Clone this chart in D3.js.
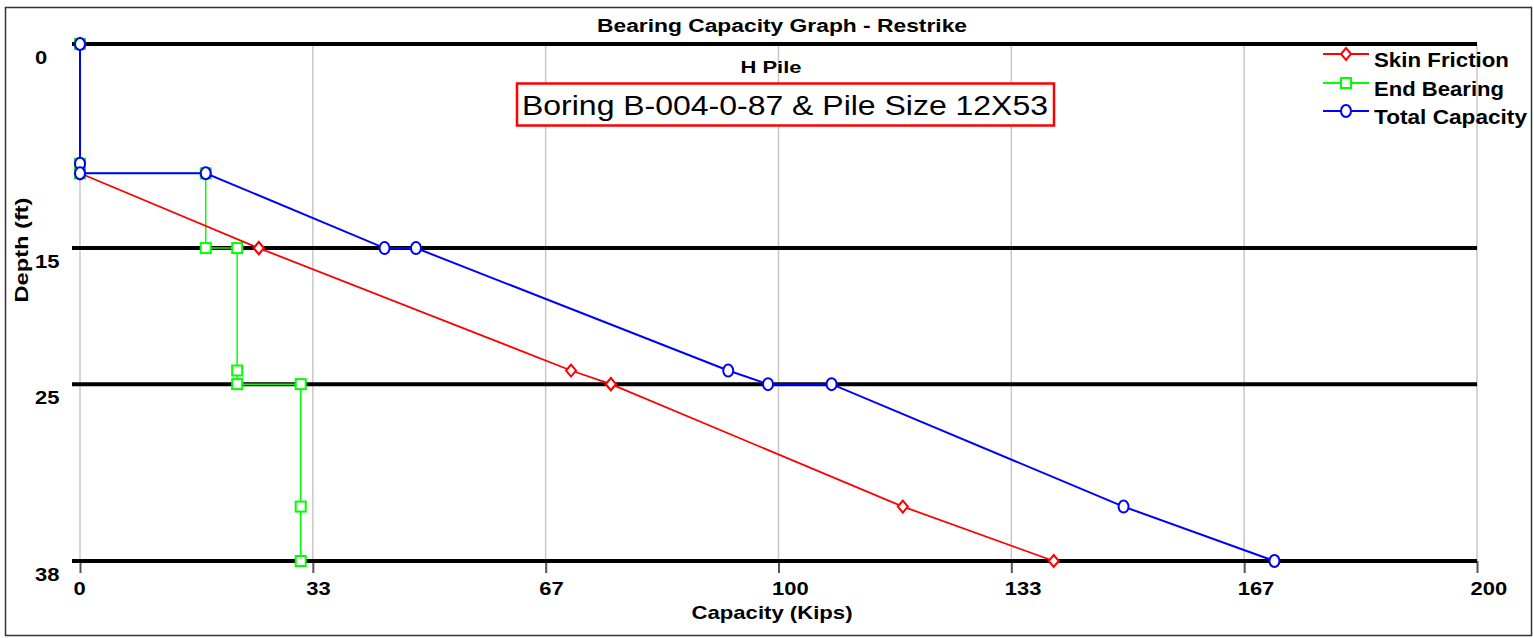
<!DOCTYPE html>
<html>
<head>
<meta charset="utf-8">
<script src="https://cdn.jsdelivr.net/npm/d3@7"></script>
<style>
  html, body { margin: 0; padding: 0; background: #fff; }
  svg { display: block; }
  text { font-family: "Liberation Sans", Arial, sans-serif; }
</style>
</head>
<body>
<svg id="chart" width="1534" height="638"></svg>
<script>
// ---- data ----
const depths        = [0, 8.8, 9.5, 9.5, 15, 15, 24, 25, 25, 34, 38];
const skinFriction  = [0, 0, 0, 0, 25.6, 25.6, 70.3, 76.0, 76.0, 117.8, 139.4];
const endBearing    = [0, 0, 0, 18.0, 18.0, 22.5, 22.5, 22.5, 31.6, 31.6, 31.6];
const totalCapacity = [0, 0, 0, 18.0, 43.6, 48.1, 92.8, 98.5, 107.6, 149.4, 171.0];
const xTickValues = [0, 200/6, 400/6, 100, 800/6, 1000/6, 200];
const xTickLabels = ["0", "33", "67", "100", "133", "167", "200"];
const yTickValues = [0, 15, 25, 38];
const yTickLabels = ["0", "15", "25", "38"];
const seriesNames = ["Skin Friction", "End Bearing", "Total Capacity"];

const svg = d3.select("#chart");
const x = d3.scaleLinear().domain([0, 200]).range([80, 1477]);
const y = d3.scaleLinear().domain([0, 38]).range([44, 561]);

function stretch(sel, k) {
  sel.each(function() {
    const w = this.getComputedTextLength();
    d3.select(this).attr("textLength", w * k).attr("lengthAdjust", "spacingAndGlyphs");
  });
}
function fit(sel, w) { sel.attr("textLength", w).attr("lengthAdjust", "spacingAndGlyphs"); }

// outer border
svg.append("rect").attr("x", 5.5).attr("y", 7.5).attr("width", 1526).attr("height", 628)
  .attr("fill", "none").attr("stroke", "#333").attr("stroke-width", 1.5);

// title
svg.append("text").attr("x", 782).attr("y", 32).attr("text-anchor", "middle")
  .attr("font-size", 17.5).attr("font-weight", "bold").text("Bearing Capacity Graph - Restrike")
  .call(fit, 370);

// vertical grid lines
svg.append("g").selectAll("line").data(xTickValues).join("line")
  .attr("x1", d => x(d)).attr("x2", d => x(d)).attr("y1", y(0)).attr("y2", y(38))
  .attr("stroke", "#c8c8c8").attr("stroke-width", 1.5);

// x axis
const xAxis = svg.append("g").attr("transform", `translate(0,${y(38)})`)
  .call(d3.axisBottom(x).tickValues(xTickValues).tickFormat((d, i) => xTickLabels[i]).tickSize(12).tickPadding(0));
xAxis.select(".domain").remove();
xAxis.selectAll(".tick line").attr("stroke", "#555").attr("stroke-width", 2);
xAxis.selectAll(".tick text").attr("text-anchor", "start").attr("x", -7).attr("y", 34).attr("dy", 0)
  .attr("font-size", 18).attr("font-weight", "bold").attr("fill", "#000").attr("font-family", null)
  .call(stretch, 1.22);

// y axis labels
const yAxis = svg.append("g").attr("transform", "translate(80,0)")
  .call(d3.axisLeft(y).tickValues(yTickValues).tickFormat((d, i) => yTickLabels[i]).tickSize(0));
yAxis.select(".domain").remove();
yAxis.selectAll(".tick text").attr("text-anchor", "start").attr("x", -45).attr("y", 19).attr("dy", 0)
  .attr("font-size", 18).attr("font-weight", "bold").attr("fill", "#000").attr("font-family", null)
  .call(stretch, 1.22);

// horizontal thick lines
svg.append("g").selectAll("line").data(yTickValues).join("line")
  .attr("x1", 72).attr("x2", x(200)).attr("y1", d => y(d)).attr("y2", d => y(d))
  .attr("stroke", "#000").attr("stroke-width", 4);

// axis titles
svg.append("text").attr("x", 772).attr("y", 619).attr("text-anchor", "middle")
  .attr("font-size", 19).attr("font-weight", "bold").text("Capacity (Kips)").call(fit, 161);
svg.append("text").attr("transform", "translate(28,250) rotate(-90)").attr("text-anchor", "middle")
  .attr("font-size", 19).attr("font-weight", "bold").text("Depth (ft)").call(fit, 105);

// subtitle and boxed label
svg.append("text").attr("x", 771).attr("y", 73).attr("text-anchor", "middle")
  .attr("font-size", 17).attr("font-weight", "bold").text("H Pile").call(fit, 61);
svg.append("rect").attr("x", 517).attr("y", 83.5).attr("width", 537).attr("height", 42)
  .attr("fill", "#fff").attr("stroke", "#ff0000").attr("stroke-width", 2.5);
svg.append("text").attr("x", 785).attr("y", 115).attr("text-anchor", "middle")
  .attr("font-size", 28).text("Boring B-004-0-87 & Pile Size 12X53").call(fit, 526);

// series
const pts = vals => vals.map((v, i) => [v, depths[i]]);
const line = d3.line().x(d => x(d[0])).y(d => y(d[1]));

function drawMarker(g, type, cx, cy, color) {
  if (type === "circle") {
    g.append("ellipse").attr("cx", cx).attr("cy", cy).attr("rx", 5).attr("ry", 6)
      .attr("fill", "#fff").attr("stroke", color).attr("stroke-width", 2);
  } else if (type === "square") {
    g.append("rect").attr("x", cx - 5).attr("y", cy - 5).attr("width", 10).attr("height", 10)
      .attr("fill", "#fff").attr("stroke", color).attr("stroke-width", 2);
  } else {
    g.append("path").attr("d", `M${cx},${cy-6}L${cx+5},${cy}L${cx},${cy+6}L${cx-5},${cy}Z`)
      .attr("fill", "#fff").attr("stroke", color).attr("stroke-width", 2);
  }
}

const series = [
  { name: seriesNames[1], vals: endBearing, color: "#00ff00", marker: "square", w: 1.5, leg: 1 },
  { name: seriesNames[0], vals: skinFriction, color: "#ff0000", marker: "diamond", w: 1.8, leg: 0 },
  { name: seriesNames[2], vals: totalCapacity, color: "#0000ff", marker: "circle", w: 2, leg: 2 }
];
series.forEach(s => {
  const g = svg.append("g");
  g.append("path").datum(pts(s.vals)).attr("d", line).attr("fill", "none")
    .attr("stroke", s.color).attr("stroke-width", s.w);
  pts(s.vals).forEach(p => drawMarker(g, s.marker, x(p[0]), y(p[1]), s.color));
});

// legend
const legY = [54, 83, 111];
const legW = [135, 130, 153];
series.forEach(s => {
  const ly = legY[s.leg];
  const g = svg.append("g");
  g.append("line").attr("x1", 1323).attr("x2", 1369).attr("y1", ly).attr("y2", ly)
    .attr("stroke", s.color).attr("stroke-width", 2);
  drawMarker(g, s.marker, 1346, ly, s.color);
  g.append("text").attr("x", 1374).attr("y", ly + 13).attr("font-size", 19.5)
    .attr("font-weight", "bold").text(s.name).call(fit, legW[s.leg]);
});
</script>
</body>
</html>
